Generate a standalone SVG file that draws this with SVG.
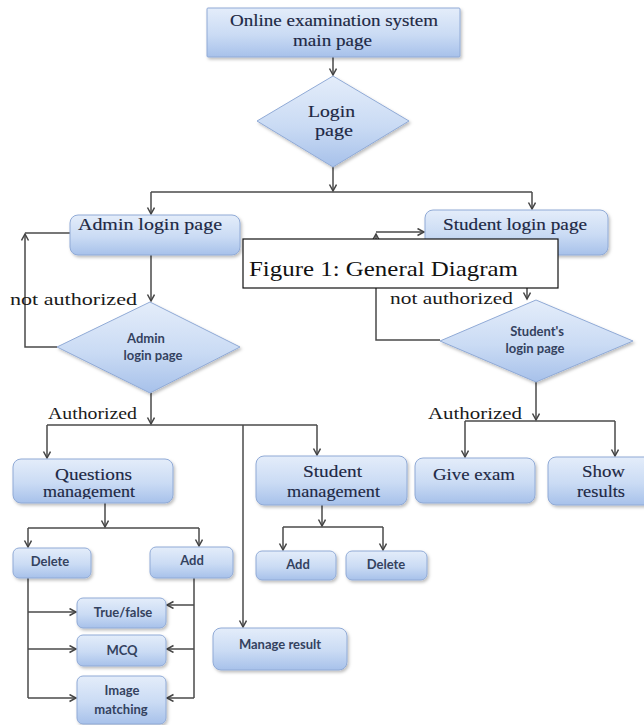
<svg xmlns="http://www.w3.org/2000/svg" width="644" height="725" viewBox="0 0 644 725">
<defs>
<linearGradient id="g" x1="0" y1="0" x2="0" y2="1">
<stop offset="0" stop-color="#e4edfa"/>
<stop offset="0.55" stop-color="#cadbf4"/>
<stop offset="1" stop-color="#a7c1ea"/>
</linearGradient>
<filter id="sh" x="-10%" y="-10%" width="125%" height="135%">
<feDropShadow dx="1.5" dy="2" stdDeviation="1.4" flood-color="#000" flood-opacity="0.25"/>
</filter>
<marker id="ah" markerWidth="10" markerHeight="10" refX="7" refY="4" orient="auto" markerUnits="userSpaceOnUse">
<path d="M0.5,0.5 L7,4 L0.5,7.5" fill="none" stroke="#444" stroke-width="1.5"/>
</marker>
<clipPath id="cq"><rect x="0" y="440" width="644" height="59"/></clipPath>
</defs>
<style>
.box{fill:url(#g);stroke:#90aad6;stroke-width:1;filter:url(#sh)}
.ser{font-family:"Liberation Serif","Times New Roman",serif;fill:#1d2844;stroke:#1d2844;stroke-width:0.15}
.lab{font-family:"Liberation Serif","Times New Roman",serif;fill:#1a1a1a}
.san{font-family:Lato,"Open Sans","Liberation Sans",sans-serif;font-weight:bold;fill:#34425f;font-size:13px}
.con path{fill:none;stroke:#4a4a4a;stroke-width:1.5}
.arr{marker-end:url(#ah)}
</style>
<rect width="644" height="725" fill="#fff"/>

<g class="con" id="connectors">
<path class="arr" d="M333,57 V75"/>
<path class="arr" d="M333,167 V191"/>
<path d="M151,192 H532"/>
<path class="arr" d="M151,192 V214"/>
<path class="arr" d="M532,192 V209"/>
<path class="arr" d="M151,255 V301"/>
<path class="arr" d="M57,347 H25 V234"/>
<path d="M25,233 H70"/>
<path class="arr" d="M527,255 V299"/>
<path class="arr" d="M440,340 H376 V234"/>
<path class="arr" d="M376,232 H424"/>
<path class="arr" d="M151,393 V424"/>
<path d="M47,425 H317"/>
<path class="arr" d="M47,425 V458"/>
<path class="arr" d="M243,425 V627"/>
<path class="arr" d="M317,425 V455"/>
<path class="arr" d="M105,503 V527"/>
<path d="M28,528 H199"/>
<path class="arr" d="M28,528 V547"/>
<path class="arr" d="M199,528 V546"/>
<path d="M28,578 V698"/>
<path class="arr" d="M28,612 H76"/>
<path class="arr" d="M28,649 H76"/>
<path class="arr" d="M28,698 H76"/>
<path d="M194,578 V698"/>
<path class="arr" d="M194,605 H167"/>
<path class="arr" d="M194,649 H167"/>
<path class="arr" d="M194,698 H167"/>
<path class="arr" d="M322,505 V526"/>
<path d="M283,527 H383"/>
<path class="arr" d="M283,527 V550"/>
<path class="arr" d="M383,527 V550"/>
<path class="arr" d="M536,382 V420"/>
<path d="M465,421 H615"/>
<path class="arr" d="M465,421 V457"/>
<path class="arr" d="M615,421 V456"/>
</g>

<g id="labels">
<text class="lab" x="10" y="305" font-size="17" textLength="127" lengthAdjust="spacingAndGlyphs">not authorized</text>
<text class="lab" x="390" y="304" font-size="17" textLength="123" lengthAdjust="spacingAndGlyphs">not authorized</text>
<text class="lab" x="48" y="419" font-size="17" textLength="89" lengthAdjust="spacingAndGlyphs">Authorized</text>
<text class="lab" x="428" y="419" font-size="17" textLength="94" lengthAdjust="spacingAndGlyphs">Authorized</text>
</g>

<g id="main">
<rect class="box" x="207" y="8" width="253" height="49" rx="1"/>
<text class="ser" x="230" y="26" font-size="16" textLength="208" lengthAdjust="spacingAndGlyphs">Online examination system</text>
<text class="ser" x="293" y="46" font-size="16" textLength="79" lengthAdjust="spacingAndGlyphs">main page</text>
</g>

<g id="login">
<polygon class="box" points="333,76 409,121 333,167 257,121"/>
<text class="ser" x="308" y="117" font-size="17" textLength="47" lengthAdjust="spacingAndGlyphs">Login</text>
<text class="ser" x="315" y="136" font-size="17" textLength="38" lengthAdjust="spacingAndGlyphs">page</text>
</g>

<g id="admin-login">
<rect class="box" x="70" y="215" width="170" height="40" rx="8"/>
<text class="ser" x="78" y="230" font-size="16" textLength="144" lengthAdjust="spacingAndGlyphs">Admin login page</text>
</g>

<g id="student-login">
<rect class="box" x="425" y="210" width="183" height="45" rx="8"/>
<text class="ser" x="443" y="230" font-size="16" textLength="144" lengthAdjust="spacingAndGlyphs">Student login page</text>
</g>

<g id="admin-check">
<polygon class="box" points="150,302 240,347 150,393 57,347"/>
<text class="san" x="146" y="343" font-size="12" text-anchor="middle">Admin</text>
<text class="san" x="153" y="360" font-size="12" text-anchor="middle">login page</text>
</g>

<g id="student-check">
<polygon class="box" points="536,300 633,341 536,382 440,341"/>
<text class="san" x="537" y="336" font-size="12" text-anchor="middle">Student's</text>
<text class="san" x="535" y="353" font-size="12" text-anchor="middle">login page</text>
</g>

<g id="questions-mgmt">
<rect class="box" x="13" y="459" width="160" height="44" rx="8"/>
<text class="ser" x="55" y="480" font-size="17" textLength="77" lengthAdjust="spacingAndGlyphs">Questions</text>
<text class="ser" x="43" y="497" font-size="16" textLength="92" lengthAdjust="spacingAndGlyphs" clip-path="url(#cq)">management</text>
</g>

<g id="student-mgmt">
<rect class="box" x="256" y="456" width="151" height="49" rx="8"/>
<text class="ser" x="303" y="477" font-size="17" textLength="59" lengthAdjust="spacingAndGlyphs">Student</text>
<text class="ser" x="287" y="497" font-size="17" textLength="93" lengthAdjust="spacingAndGlyphs">management</text>
</g>

<g id="give-exam">
<rect class="box" x="415" y="458" width="120" height="45" rx="8"/>
<text class="ser" x="433" y="480" font-size="17" textLength="82" lengthAdjust="spacingAndGlyphs">Give exam</text>
</g>

<g id="show-results">
<rect class="box" x="548" y="457" width="112" height="48" rx="8"/>
<text class="ser" x="582" y="477" font-size="17" textLength="43" lengthAdjust="spacingAndGlyphs">Show</text>
<text class="ser" x="577" y="497" font-size="17" textLength="48" lengthAdjust="spacingAndGlyphs" clip-path="url(#cq)">results</text>
</g>

<g id="q-delete">
<rect class="box" x="13" y="548" width="78" height="30" rx="6"/>
<text class="san" x="50" y="566" text-anchor="middle">Delete</text>
</g>

<g id="q-add">
<rect class="box" x="150" y="547" width="83" height="31" rx="6"/>
<text class="san" x="192" y="565" text-anchor="middle">Add</text>
</g>

<g id="true-false">
<rect class="box" x="77" y="598" width="89" height="30" rx="6"/>
<text class="san" x="123" y="617" text-anchor="middle">True/false</text>
</g>

<g id="mcq">
<rect class="box" x="77" y="635" width="89" height="31" rx="6"/>
<text class="san" x="122" y="655" text-anchor="middle">MCQ</text>
</g>

<g id="image-matching">
<rect class="box" x="77" y="676" width="89" height="48" rx="6"/>
<text class="san" x="122" y="695" text-anchor="middle">Image</text>
<text class="san" x="121" y="714" text-anchor="middle">matching</text>
</g>

<g id="manage-result">
<rect class="box" x="213" y="628" width="134" height="42" rx="8"/>
<text class="san" x="280" y="649" text-anchor="middle">Manage result</text>
</g>

<g id="s-add">
<rect class="box" x="256" y="551" width="80" height="29" rx="6"/>
<text class="san" x="298" y="569" text-anchor="middle">Add</text>
</g>

<g id="s-delete">
<rect class="box" x="346" y="551" width="81" height="29" rx="6"/>
<text class="san" x="386" y="569" text-anchor="middle">Delete</text>
</g>

<g id="caption">
<rect x="243" y="239" width="315" height="49" fill="#fff" stroke="#111" stroke-width="1.2"/>
<text x="249" y="276" font-family="'Liberation Serif','Times New Roman',serif" font-size="21" fill="#111" textLength="269" lengthAdjust="spacingAndGlyphs">Figure 1: General Diagram</text>
</g>
</svg>
